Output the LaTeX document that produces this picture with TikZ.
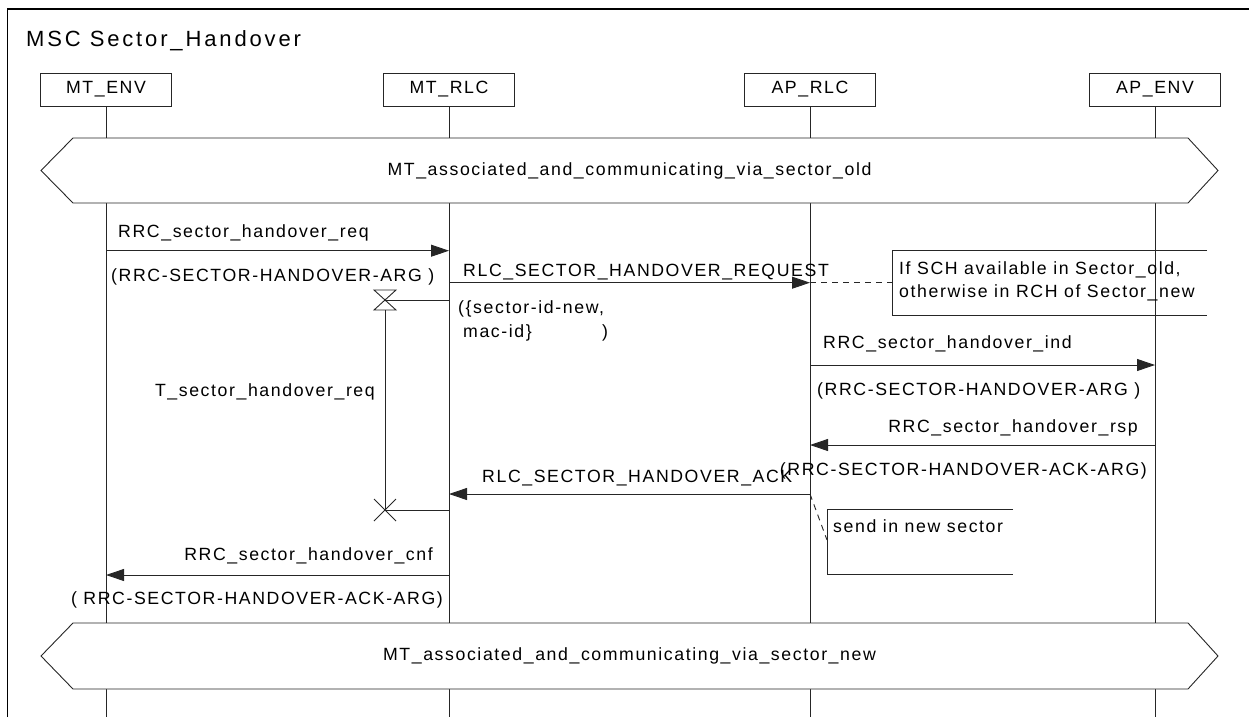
\documentclass[tikz,border=0pt]{standalone}
\usepackage{fontspec}
\setmainfont{Liberation Sans}
\newfontfamily\msgfont[LetterSpace=9]{Liberation Sans}
\newfontfamily\ttlfont[LetterSpace=13]{Liberation Sans}
\usetikzlibrary{arrows.meta}
\tikzset{
  ln/.style={line width=0.9pt, draw=black!85},
  headbox/.style={draw=black!85, line width=0.9pt, minimum width=131pt, minimum height=33pt, inner sep=0pt, font=\msgfont\fontsize{17.7pt}{20pt}\selectfont},
  txt/.style={inner sep=0pt, font=\msgfont\fontsize{17.7pt}{20pt}\selectfont},
  msg/.style={ln, -{Triangle[length=18pt,width=12pt]}},
  cmtline/.style={ln, dash pattern=on 6pt off 5pt},
  condbox/.style={ln, fill=white}
}
\begin{document}
\begin{tikzpicture}[x=1pt,y=-1pt]
\useasboundingbox (0,0) rectangle (1249,717);
% frame
\draw[line width=1.1pt] (7.3,717) -- (7.3,9) -- (1249,9);
\node[anchor=base west, inner sep=0pt, font=\ttlfont\fontsize{22pt}{26pt}\selectfont] (title) at (26,47) {MSC Sector\_Handover};
% instance heads
\node[headbox] (mtenv) at (106,89.5) {MT\_ENV};
\node[headbox] (mtrlc) at (449,89.5) {MT\_RLC};
\node[headbox] (aprlc) at (810,89.5) {AP\_RLC};
\node[headbox] (apenv) at (1155,89.5) {AP\_ENV};
% lifelines
\coordinate (e1) at (106,717);
\coordinate (e2) at (449,717);
\coordinate (e3) at (810,717);
\coordinate (e4) at (1155,717);
\draw[ln] (mtenv.south) -- (e1);
\draw[ln] (mtrlc.south) -- (e2);
\draw[ln] (aprlc.south) -- (e3);
\draw[ln] (apenv.south) -- (e4);
% conditions
\draw[condbox] (73,138) -- (1188,138) -- (1218,170.5) -- (1188,203) -- (73,203) -- (41,170.5) -- cycle;
\node[txt] (cond1) at (629.5,170.5) {MT\_associated\_and\_communicating\_via\_sector\_old};
\draw[condbox] (73,623) -- (1188,623) -- (1218,656) -- (1188,689) -- (73,689) -- (41,656) -- cycle;
\node[txt] (cond2) at (629.5,656) {MT\_associated\_and\_communicating\_via\_sector\_new};
% message coordinates
\coordinate (m1a) at (106,250.7);  \coordinate (m1b) at (449,250.7);
\coordinate (m2a) at (449,282.7);  \coordinate (m2b) at (810,282.7);
\coordinate (m3a) at (810,365);    \coordinate (m3b) at (1155,365);
\coordinate (m4a) at (1155,445);   \coordinate (m4b) at (810,445);
\coordinate (m5a) at (810,494);    \coordinate (m5b) at (449,494);
\coordinate (m6a) at (449,575);    \coordinate (m6b) at (106,575);
\draw[msg] (m1a) -- (m1b);
\draw[msg] (m2a) -- (m2b);
\draw[msg] (m3a) -- (m3b);
\draw[msg] (m4a) -- (m4b);
\draw[msg] (m5a) -- (m5b);
\draw[msg] (m6a) -- (m6b);
% message labels
\node[txt, anchor=base west] (l1) at (118,237) {RRC\_sector\_handover\_req};
\node[txt, anchor=base west] (p1) at (111,281) {(RRC-SECTOR-HANDOVER-ARG )};
\node[txt, anchor=base west] (l2) at (463,276) {RLC\_SECTOR\_HANDOVER\_REQUEST};
\node[txt, anchor=base west] (p2a) at (458,313) {(\{sector-id-new,};
\node[txt, anchor=base west] (p2b) at (463,337) {mac-id\}};
\node[txt, anchor=base west] (p2c) at (602,337) {)};
\node[txt, anchor=base west] (l3) at (823,348) {RRC\_sector\_handover\_ind};
\node[txt, anchor=base west] (p3) at (817,395) {(RRC-SECTOR-HANDOVER-ARG )};
\node[txt, anchor=base east] (l4) at (1138,432) {RRC\_sector\_handover\_rsp};
\node[txt, anchor=base east] (p4) at (1147,475) {(RRC-SECTOR-HANDOVER-ACK-ARG)};
\node[txt, anchor=base west] (l5) at (482,482) {RLC\_SECTOR\_HANDOVER\_ACK};
\node[txt, anchor=base east] (l6) at (433,560) {RRC\_sector\_handover\_cnf};
\node[txt, anchor=base east] (p6) at (443,604) {( RRC-SECTOR-HANDOVER-ACK-ARG)};
% timer
\coordinate (ts) at (385,300);
\coordinate (tsl) at (449,300);
\coordinate (tsb) at (385,310);
\coordinate (te) at (385,510);
\coordinate (tel) at (449,510);
\draw[ln] (tsl) -- (ts);
\draw[ln] (374,290) -- (396,290) -- (374,310) -- (396,310) -- cycle;
\draw[ln] (tsb) -- (te);
\draw[ln] (374,499) -- (396,521);
\draw[ln] (374,521) -- (396,499);
\draw[ln] (te) -- (tel);
\node[txt, anchor=base east] (tl) at (375,396) {T\_sector\_handover\_req};
% comment 1
\draw[ln] (1207,250) -- (892,250) -- (892,315) -- (1207,315);
\coordinate (c1) at (892,282.7);
\draw[cmtline] (m2b) -- (c1);
\node[txt, anchor=base west] (c1a) at (899,274) {If SCH available in Sector\_old,};
\node[txt, anchor=base west] (c1b) at (899,297) {otherwise in RCH of Sector\_new};
% comment 2
\draw[ln] (1013,509) -- (827,509) -- (827,574) -- (1013,574);
\coordinate (c2) at (827,540);
\draw[cmtline] (m5a) -- (c2);
\node[txt, anchor=base west] (c2a) at (833,532) {send in new sector};
\end{tikzpicture}
\end{document}
